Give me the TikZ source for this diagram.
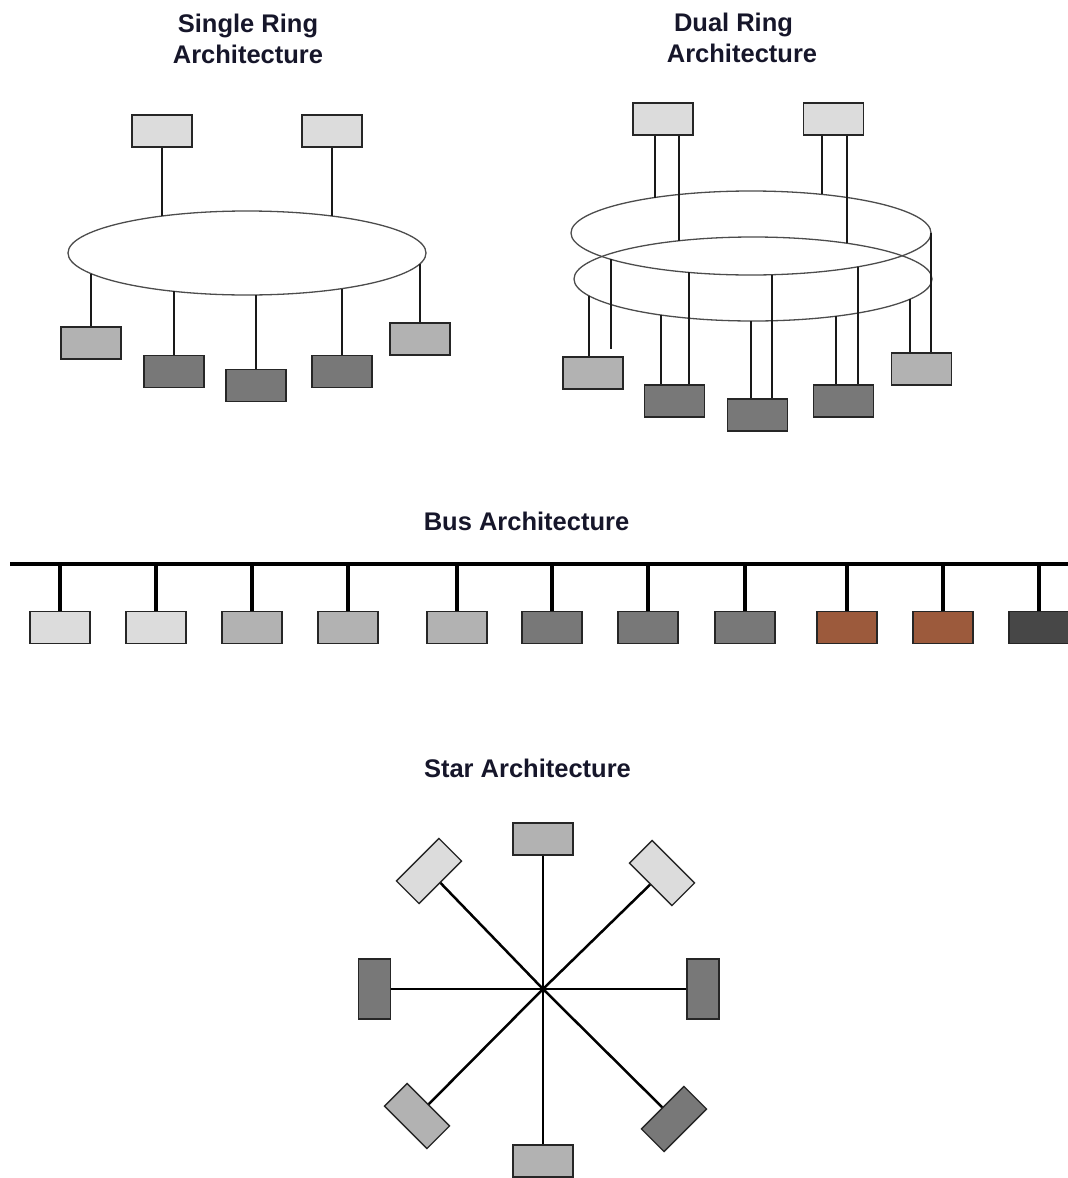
\documentclass[tikz,border=0pt]{standalone}
\usepackage{fontspec}
\setmainfont{Liberation Sans}
\definecolor{lightdev}{HTML}{DCDCDC}
\definecolor{middev}{HTML}{B2B2B2}
\definecolor{darkdev}{HTML}{787878}
\definecolor{rustdev}{HTML}{9C5A3C}
\definecolor{coaldev}{HTML}{474747}
\definecolor{inkdark}{HTML}{16162A}
\usetikzlibrary{calc}

\begin{document}
\begin{tikzpicture}[x=1pt, y=-1pt,
  dev/.style={draw=black!85, line width=1.3pt, minimum width=60pt,
    minimum height=32pt, inner sep=0pt},
  ring/.style={draw=black!70, line width=1.3pt},
  wire/.style={draw=black!90, line width=1.5pt},
  buswire/.style={draw=black, line width=3.2pt},
  spoke/.style={draw=black, line width=2.5pt},
  title/.style={font=\bfseries\fontsize{25.5}{30.5}\selectfont, text=inkdark,
    align=center, inner sep=0pt, anchor=base},
]
  \useasboundingbox (0,0) rectangle (1068,1178);

  % single ring
  \node[title] (ttlsingle) at (248,63) {Single Ring\\Architecture};
  \draw[ring] (247,253) ellipse (179pt and 42pt);
  \coordinate (sr1) at (162,216);
  \coordinate (sr2) at (332,216);
  \coordinate (sr3) at (91,273.6);
  \coordinate (sr4) at (174,291.3);
  \coordinate (sr5) at (256,294.9);
  \coordinate (sr6) at (342,288.6);
  \coordinate (sr7) at (420,263.8);
  \node[dev, fill=lightdev] (st1) at (162,131) {};
  \node[dev, fill=lightdev] (st2) at (332,131) {};
  \node[dev, fill=middev] (sb1) at (91,343) {};
  \node[dev, fill=darkdev] (sb2) at (174,371.5) {};
  \node[dev, fill=darkdev] (sb3) at (256,385.5) {};
  \node[dev, fill=darkdev] (sb4) at (342,371.5) {};
  \node[dev, fill=middev] (sb5) at (420,339) {};
  \draw[wire] (st1.south) -- (sr1);
  \draw[wire] (st2.south) -- (sr2);
  \draw[wire] (sr3) -- (sb1.north);
  \draw[wire] (sr4) -- (sb2.north);
  \draw[wire] (sr5) -- (sb3.north);
  \draw[wire] (sr6) -- (sb4.north);
  \draw[wire] (sr7) -- (sb5.north);

  % dual ring
  \node[title] (ttldual) at (742,62) {Dual Ring\hspace*{17pt}\\Architecture};
  \draw[ring] (751,233) ellipse (180pt and 42pt);
  \draw[ring] (753,279) ellipse (179pt and 42pt);
  \coordinate (da1) at (655,197.5);
  \coordinate (da2) at (679,240.8);
  \coordinate (db1) at (822,194.4);
  \coordinate (db2) at (847,243.3);
  \coordinate (d1o) at (589,295.8);
  \coordinate (d1i) at (611,259.4);
  \coordinate (d1e) at (611,349);
  \coordinate (d2o) at (661,315);
  \coordinate (d2i) at (689,272.4);
  \coordinate (d3o) at (751,321);
  \coordinate (d3i) at (772,274.7);
  \coordinate (d4o) at (836,316.2);
  \coordinate (d4i) at (858,266.8);
  \coordinate (d5o) at (910,299.2);
  \coordinate (d5i) at (931,233);
  \node[dev, fill=lightdev] (dtA) at (663,119) {};
  \node[dev, fill=lightdev] (dtB) at (833.5,119) {};
  \node[dev, fill=middev] (db1x) at (593,373) {};
  \node[dev, fill=darkdev] (db2x) at (674.5,401) {};
  \node[dev, fill=darkdev] (db3x) at (757.5,415) {};
  \node[dev, fill=darkdev] (db4x) at (843.5,401) {};
  \node[dev, fill=middev] (db5x) at (921.5,369) {};
  \draw[wire] (dtA.south -| da1) -- (da1);
  \draw[wire] (dtA.south -| da2) -- (da2);
  \draw[wire] (dtB.south -| db1) -- (db1);
  \draw[wire] (dtB.south -| db2) -- (db2);
  \draw[wire] (d1o) -- (d1o |- db1x.north);
  \draw[wire] (d1i) -- (d1e);
  \draw[wire] (d2o) -- (d2o |- db2x.north);
  \draw[wire] (d2i) -- (d2i |- db2x.north);
  \draw[wire] (d3o) -- (d3o |- db3x.north);
  \draw[wire] (d3i) -- (d3i |- db3x.north);
  \draw[wire] (d4o) -- (d4o |- db4x.north);
  \draw[wire] (d4i) -- (d4i |- db4x.north);
  \draw[wire] (d5o) -- (d5o |- db5x.north);
  \draw[wire] (d5i) -- (d5i |- db5x.north);

  % bus
  \node[title] (ttlbus) at (526.5,530) {Bus Architecture};
  \coordinate (busl) at (10,564);
  \coordinate (busr) at (1068,564);
  \draw[buswire] (busl) -- (busr);
  \node[dev, fill=lightdev] (b1) at (60,627.5) {};
  \node[dev, fill=lightdev] (b2) at (156,627.5) {};
  \node[dev, fill=middev] (b3) at (252,627.5) {};
  \node[dev, fill=middev] (b4) at (348,627.5) {};
  \node[dev, fill=middev] (b5) at (457,627.5) {};
  \node[dev, fill=darkdev] (b6) at (552,627.5) {};
  \node[dev, fill=darkdev] (b7) at (648,627.5) {};
  \node[dev, fill=darkdev] (b8) at (745,627.5) {};
  \node[dev, fill=rustdev] (b9) at (847,627.5) {};
  \node[dev, fill=rustdev] (b10) at (943,627.5) {};
  \node[dev, fill=coaldev] (b11) at (1039,627.5) {};
  \draw[buswire] (b1.north |- busl) -- (b1.north);
  \draw[buswire] (b2.north |- busl) -- (b2.north);
  \draw[buswire] (b3.north |- busl) -- (b3.north);
  \draw[buswire] (b4.north |- busl) -- (b4.north);
  \draw[buswire] (b5.north |- busl) -- (b5.north);
  \draw[buswire] (b6.north |- busl) -- (b6.north);
  \draw[buswire] (b7.north |- busl) -- (b7.north);
  \draw[buswire] (b8.north |- busl) -- (b8.north);
  \draw[buswire] (b9.north |- busl) -- (b9.north);
  \draw[buswire] (b10.north |- busl) -- (b10.north);
  \draw[buswire] (b11.north |- busl) -- (b11.north);

  % star
  \node[title] (ttlstar) at (527.5,777) {Star Architecture};
  \coordinate (hub) at (543,989);
  \node[dev, fill=middev] (sN) at (543,839) {};
  \node[dev, fill=middev] (sS) at (543,1161) {};
  \node[dev, fill=darkdev, rotate=90] (sW) at (374.5,989) {};
  \node[dev, fill=darkdev, rotate=90] (sE) at (703,989) {};
  \node[dev, fill=lightdev, rotate=45] (sNW) at (429,871) {};
  \node[dev, fill=lightdev, rotate=-45] (sNE) at (662,873) {};
  \node[dev, fill=middev, rotate=-45] (sSW) at (417,1116) {};
  \node[dev, fill=darkdev, rotate=45] (sSE) at (674,1119) {};
  \draw[spoke] (hub) -- (sN);
  \draw[spoke] (hub) -- (sS);
  \draw[spoke] (hub) -- (sW);
  \draw[spoke] (hub) -- (sE);
  \draw[spoke] (hub) -- (sNW);
  \draw[spoke] (hub) -- (sNE);
  \draw[spoke] (hub) -- (sSW);
  \draw[spoke] (hub) -- (sSE);
\end{tikzpicture}
\end{document}
